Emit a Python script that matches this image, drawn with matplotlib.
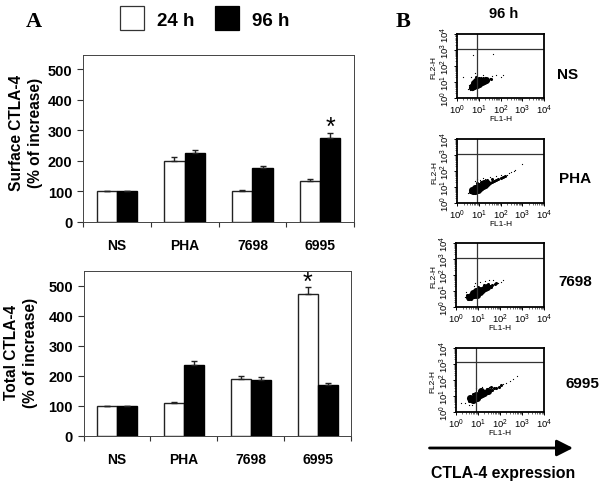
import matplotlib
matplotlib.use('Agg')
import matplotlib.pyplot as plt
from matplotlib.patches import Rectangle
from matplotlib.ticker import LogLocator, NullFormatter
import numpy as np

plt.rcParams['font.family'] = ['Liberation Sans', 'DejaVu Sans']
plt.rcParams['mathtext.default'] = 'regular'

W, H = 602, 485

categories = ['NS', 'PHA', '7698', '6995']
yticks = [0, 100, 200, 300, 400, 500]
decades = [1, 10, 100, 1000, 10000]
decade_labels = ['$10^{0}$', '$10^{1}$', '$10^{2}$', '$10^{3}$', '$10^{4}$']

surface_24 = [100, 200, 100, 133]
surface_96 = [100, 225, 175, 275]
surface_24_err = [0, 12, 5, 7]
surface_96_err = [0, 10, 9, 15]

total_24 = [100, 110, 190, 473]
total_96 = [100, 237, 187, 170]
total_24_err = [0, 3, 9, 24]
total_96_err = [0, 12, 10, 7]

# flow cytometry clouds, log10 (FL1, FL2)
ns_dense = [(.72, .72), (.8, .75), (.85, .85), (.92, .8), (.95, .95), (1.02, .9), (1.05, 1.02),
            (1.15, 1.0), (1.25, 1.05), (1.35, 1.15), (.8, .95), (.9, 1.1), (1.0, 1.15)]
ns_mid = [(.6, .62), (.65, .8), (1.45, 1.15), (1.55, 1.22), (1.2, 1.25), (.9, 1.3), (.7, .55)]
ns_sparse = [(.5, .6), (.55, .85), (.6, .5), (.7, .5), (.85, 1.55), (.9, 1.4), (1.1, 1.35), (1.3, 1.35),
             (1.5, 1.25), (1.6, 1.4), (1.8, 1.45), (2.1, 1.45), (2.0, 1.3), (.3, 1.35), (.75, 2.7),
             (1.65, 2.75), (1.2, 1.45), (.65, 1.3)]

pha_dense = [(.75, .78), (.85, .75), (.95, .85), (.85, .95), (.95, 1.0), (1.05, .95), (1.1, 1.05),
             (1.0, 1.1), (1.2, 1.1), (1.3, 1.15), (1.25, 1.25), (1.4, 1.25), (.7, .85)]
pha_mid = [(1.5, 1.3), (1.6, 1.35), (1.7, 1.42), (1.8, 1.48), (1.9, 1.52), (2.0, 1.58), (2.1, 1.65),
           (2.2, 1.72), (1.4, 1.45), (1.6, 1.5), (1.1, 1.35), (.9, 1.25), (.62, .72)]
pha_sparse = [(2.3, 1.8), (2.4, 1.88), (2.5, 1.95), (2.6, 2.02), (2.68, 2.1), (3.0, 2.45), (.5, .65),
              (.9, 1.55), (1.2, 1.6), (1.5, 1.65), (1.8, 1.7), (2.0, 1.8), (.85, 1.4), (1.3, 1.55), (1.05, 1.45)]

c7698_dense = [(.6, .65), (.7, .7), (.8, .75), (.85, .88), (.95, .8), (1.0, .95), (1.1, .95),
               (1.05, 1.1), (1.2, 1.1), (1.3, 1.2), (.9, 1.05), (.75, .9), (1.4, 1.25)]
c7698_mid = [(1.55, 1.35), (1.65, 1.4), (1.75, 1.45), (1.45, 1.45), (1.25, 1.4), (1.0, 1.3), (.5, .8),
             (.55, .55), (.7, .55), (1.6, 1.25), (1.8, 1.55)]
c7698_sparse = [(.45, .95), (.85, 1.5), (1.1, 1.6), (1.3, 1.65), (1.5, 1.7), (1.7, 1.7), (1.9, 1.55),
                (2.05, 1.6), (2.15, 1.7), (.5, .5), (.8, 1.35), (.4, .65)]

c6995_dense = [(.7, .8), (.8, .75), (.85, .9), (.95, .85), (1.0, 1.0), (1.1, 1.05), (.9, 1.05),
               (1.2, 1.15), (1.3, 1.2), (1.45, 1.3), (1.15, 1.3), (.65, .9)]
c6995_mid = [(1.55, 1.38), (1.65, 1.4), (1.75, 1.48), (1.85, 1.52), (1.95, 1.58), (2.05, 1.68),
             (1.4, 1.45), (1.6, 1.55), (.8, 1.15), (.6, .7)]
c6995_sparse = [(2.15, 1.75), (2.3, 1.85), (2.45, 1.95), (2.6, 2.1), (.4, .55), (.25, .55), (.6, .45),
                (.9, 1.5), (1.2, 1.55), (1.5, 1.6), (.55, 1.0), (.75, .45), (2.8, 2.25)]


def px_axes(fig, left, top, right, bottom):
    return fig.add_axes([left / W, 1 - bottom / H, (right - left) / W, (bottom - top) / H])


def bar_panel(fig, box, v24, v96, e24, e96, ylabel, label_xy):
    ax = px_axes(fig, *box)
    x = np.arange(len(categories))
    width = 0.3
    ax.bar(x - width / 2, v24, width, color='white', edgecolor='#222222', linewidth=1,
           yerr=[np.zeros(4), e24], error_kw=dict(ecolor='#222222', elinewidth=1, capsize=2.5, capthick=1))
    ax.bar(x + width / 2, v96, width, color='black', edgecolor='black', linewidth=1,
           yerr=[np.zeros(4), e96], error_kw=dict(ecolor='#222222', elinewidth=1, capsize=2.5, capthick=1))
    ax.set_xlim(-0.5, 3.5)
    ax.set_ylim(0, 548)
    ax.set_yticks(yticks)
    ax.set_xticks(np.arange(5) - 0.5)
    ax.set_xticklabels([])
    ax.set_xticks(x, minor=True)
    ax.set_xticklabels(categories, minor=True, fontweight='bold', fontsize=10)
    ax.tick_params(axis='x', which='major', length=3.5, width=0.8, color='#333333')
    ax.tick_params(axis='x', which='minor', length=0, pad=12)
    ax.tick_params(axis='y', length=4, width=0.8, color='#333333', labelsize=10.5)
    for lab in ax.get_yticklabels():
        lab.set_fontweight('bold')
    for s in ax.spines.values():
        s.set_linewidth(0.7)
        s.set_color('#444444')
    ax.set_ylabel(ylabel, fontweight='bold', fontsize=11.2, linespacing=1.3)
    ax.yaxis.set_label_coords(*label_xy)
    return ax


def facs_panel(fig, box, vx, hy, dense, mid, sparse):
    ax = px_axes(fig, *box)
    ax.set_xscale('log')
    ax.set_yscale('log')
    for pts, size in ((sparse, 0.8), (mid, 5), (dense, 26)):
        arr = np.array(pts)
        ax.scatter(10 ** arr[:, 0], 10 ** arr[:, 1], s=size, color='black', linewidths=0)
    ax.set_xlim(1, 1e4)
    ax.set_ylim(1, 1e4)
    ax.axvline(10 ** vx, color='#333333', lw=0.9)
    ax.axhline(10 ** hy, color='#333333', lw=0.9)
    for axis in (ax.xaxis, ax.yaxis):
        axis.set_major_locator(LogLocator(base=10, numticks=6))
        axis.set_minor_locator(LogLocator(base=10, subs=range(2, 10), numticks=6))
        axis.set_minor_formatter(NullFormatter())
    ax.set_xticks(decades, decade_labels)
    ax.set_yticks(decades, decade_labels)
    ax.tick_params(axis='both', which='major', length=2.5, width=0.7, labelsize=6.8, pad=1)
    ax.tick_params(axis='both', which='minor', length=1.2, width=0.4)
    ax.tick_params(axis='y', labelrotation=90)
    for lab in ax.get_yticklabels():
        lab.set_va('center')
    ax.set_xlabel('FL1-H', fontsize=6, labelpad=-1)
    ax.set_ylabel('FL2-H', fontsize=6, labelpad=0.5)
    for s in ax.spines.values():
        s.set_linewidth(1.3)
    return ax


fig = plt.figure(figsize=(W / 100, H / 100), dpi=100, facecolor='white')

top = bar_panel(fig, (83, 55.5, 354, 222.7), surface_24, surface_96, surface_24_err, surface_96_err,
                'Surface CTLA-4\n(% of increase)', (-0.149, 0.538))
top.text(3.15, 310, '*', ha='center', va='center', fontsize=18)

bot = bar_panel(fig, (83.5, 272.3, 351, 436.7), total_24, total_96, total_24_err, total_96_err,
                'Total CTLA-4\n(% of increase)', (-0.17, 0.51))
bot.text(2.85, 513, '*', ha='center', va='center', fontsize=18)

facs_panel(fig, (456.7, 35, 544.3, 99.3), 0.93, 3.07, ns_dense, ns_mid, ns_sparse)
facs_panel(fig, (457, 140.3, 544, 204.3), 0.92, 3.09, pha_dense, pha_mid, pha_sparse)
facs_panel(fig, (456, 244.3, 544, 308.3), 0.95, 3.08, c7698_dense, c7698_mid, c7698_sparse)
facs_panel(fig, (455.7, 349.3, 543.7, 413), 0.92, 3.12, c6995_dense, c6995_mid, c6995_sparse)

# letters, legend and arrow on a full figure overlay in pixel coordinates
ov = fig.add_axes([0, 0, 1, 1], facecolor='none')
ov.set_xlim(0, W)
ov.set_ylim(H, 0)
ov.axis('off')
ov.text(26, 27, 'A', family='Liberation Serif', fontweight='bold', fontsize=16)
ov.text(396, 27, 'B', family='Liberation Serif', fontweight='bold', fontsize=16)
ov.add_patch(Rectangle((119.5, 7), 24, 23.5, facecolor='white', edgecolor='#333333', lw=0.9))
ov.add_patch(Rectangle((215, 7), 24, 23.5, facecolor='black', edgecolor='black', lw=0.9))
ov.text(157, 22, '24 h', fontweight='bold', fontsize=13.5, va='center')
ov.text(252, 22, '96 h', fontweight='bold', fontsize=13.5, va='center')
ov.text(503.5, 14, '96 h', fontweight='bold', fontsize=10.5, ha='center', va='center')
for name, xc, yc in (('NS', 568, 75), ('PHA', 575, 179), ('7698', 575, 282), ('6995', 582, 384)):
    ov.text(xc, yc, name, fontweight='bold', fontsize=11, ha='center', va='center')
ov.annotate('', xy=(573, 449), xytext=(429.5, 449),
            arrowprops=dict(arrowstyle='-|>,head_length=0.75,head_width=0.38', lw=2, color='black',
                            shrinkA=0, shrinkB=0, mutation_scale=13))
ov.text(503, 474, 'CTLA-4 expression', fontweight='bold', fontsize=11.4, ha='center', va='center')

fig.savefig('out.png', dpi=100)
